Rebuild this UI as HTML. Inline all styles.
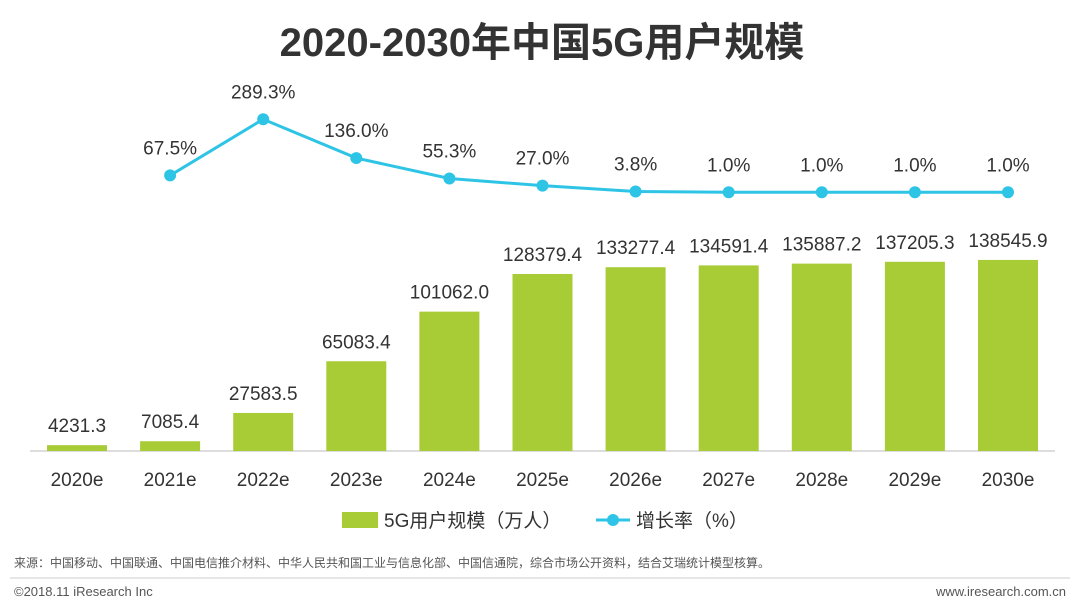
<!DOCTYPE html>
<html><head><meta charset="utf-8">
<style>
body{margin:0;background:#fff;width:1080px;height:608px;overflow:hidden;font-family:"Liberation Sans","Noto Sans CJK SC",sans-serif;}
</style></head>
<body>
<svg id="chart" width="1080" height="608" xmlns="http://www.w3.org/2000/svg" font-family="Liberation Sans, Noto Sans CJK SC, sans-serif">
<text x="542" y="56" text-anchor="middle" font-size="40" font-weight="bold" fill="#333">2020-2030年中国5G用户规模</text>
<line x1="30" x2="1055" y1="451" y2="451" stroke="#bbb" stroke-width="1"/>
<g id="bars"></g><g id="line"></g><g id="xlabels"></g>
<g>
<rect x="342" y="512" width="36" height="16" fill="#a8cc36"/>
<text x="384" y="527" font-size="19" fill="#333">5G用户规模（万人）</text>
<line x1="596" x2="630" y1="520" y2="520" stroke="#2ec4e6" stroke-width="3"/>
<circle cx="613" cy="520" r="6" fill="#2ec4e6"/>
<text x="636" y="527" font-size="19" fill="#333">增长率（%）</text>
</g>
<text x="14" y="567" font-size="12" fill="#555">来源：中国移动、中国联通、中国电信推介材料、中华人民共和国工业与信息化部、中国信通院，综合市场公开资料，结合艾瑞统计模型核算。</text>
<line x1="10" x2="1070" y1="578" y2="578" stroke="#ccc"/>
<text x="14" y="596" font-size="13" fill="#555">©2018.11 iResearch Inc</text>
<text x="1066" y="596" font-size="13" fill="#555" text-anchor="end">www.iresearch.com.cn</text>
</svg>
<script>
const categories=["2020e","2021e","2022e","2023e","2024e","2025e","2026e","2027e","2028e","2029e","2030e"];
const users=[4231.3,7085.4,27583.5,65083.4,101062.0,128379.4,133277.4,134591.4,135887.2,137205.3,138545.9];
const growth=[null,67.5,289.3,136.0,55.3,27.0,3.8,1.0,1.0,1.0,1.0];
const NS="http://www.w3.org/2000/svg";
const xPos=i=>77+i*93.1;
const yBar=v=>451-v*0.001379;
const yLine=v=>192.25-(v-1)*0.2532;
function mk(tag,attrs,parent,text){const e=document.createElementNS(NS,tag);for(const k in attrs)e.setAttribute(k,attrs[k]);if(text!=null)e.textContent=text;parent.appendChild(e);return e;}
const gb=document.getElementById('bars'),gl=document.getElementById('line'),gx=document.getElementById('xlabels');
categories.forEach((c,i)=>{
 const x=xPos(i),t=yBar(users[i]);
 const r=mk('rect',{x:x-30,y:t,width:60,height:451-t,fill:'#a8cc36'},gb);
 
 
 const l=mk('text',{x:x,y:t-13,'text-anchor':'middle','font-size':19,fill:'#333'},gb,users[i].toFixed(1));
 
 
 const xl=mk('text',{x:x,y:486,'text-anchor':'middle','font-size':19,fill:'#333'},gx,c);
 
 
});
let pts=[];
growth.forEach((g,i)=>{if(g!=null)pts.push([xPos(i),yLine(g)]);});
const pl=mk('polyline',{points:pts.map(p=>p.join(',')).join(' '),fill:'none',stroke:'#2ec4e6','stroke-width':3},gl);


growth.forEach((g,i)=>{if(g==null)return;
 const x=xPos(i),y=yLine(g);
 const c=mk('circle',{cx:x,cy:y,r:6,fill:'#2ec4e6'},gl);
 
 
 const t=mk('text',{x:x,y:y-21,'text-anchor':'middle','font-size':19,fill:'#333'},gl,g.toFixed(1)+'%');
 
 
});
</script>
</body></html>
